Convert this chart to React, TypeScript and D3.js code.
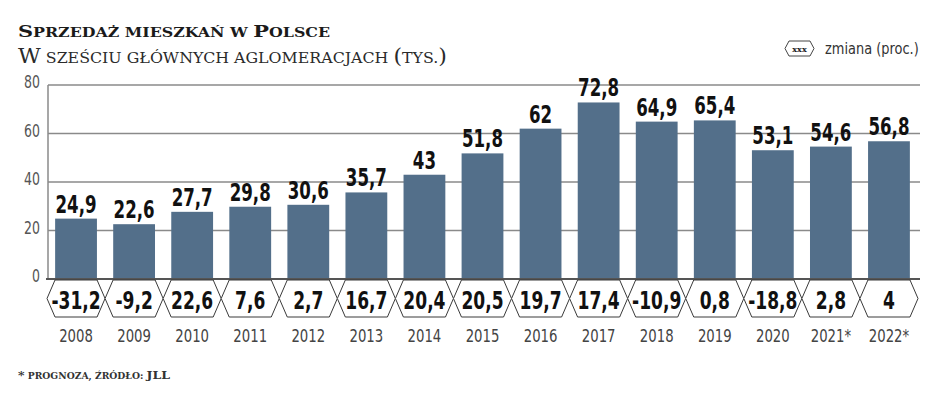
import { useEffect, useRef } from 'react';
import * as d3 from 'd3';

const years = ['2008', '2009', '2010', '2011', '2012', '2013', '2014', '2015', '2016', '2017', '2018', '2019', '2020', '2021*', '2022*'];
const sales = [24.9, 22.6, 27.7, 29.8, 30.6, 35.7, 43, 51.8, 62, 72.8, 64.9, 65.4, 53.1, 54.6, 56.8];
const changes = [-31.2, -9.2, 22.6, 7.6, 2.7, 16.7, 20.4, 20.5, 19.7, 17.4, -10.9, 0.8, -18.8, 2.8, 4];
const yTicks = [0, 20, 40, 60, 80];

const W = 948;
const H = 395;
const narrow = '"DejaVu Sans Condensed", "DejaVu Sans", sans-serif';
const serif = '"DejaVu Serif", Georgia, serif';

const fmt = (v: number) => String(v).replace('.', ',');

function hexPath(x0: number, x1: number, y0: number, y1: number, inset: number) {
  const ym = (y0 + y1) / 2;
  return `M${x0},${ym}L${x0 + inset},${y0}L${x1 - inset},${y0}L${x1},${ym}L${x1 - inset},${y1}L${x0 + inset},${y1}Z`;
}

// fake small caps: capitals at full size, the rest upper-cased and smaller
function smallCaps(
  sel: d3.Selection<SVGTextElement, unknown, null, undefined>,
  text: string,
  big: number,
  small: number,
) {
  const parts: { s: string; cap: boolean }[] = [];
  for (const ch of text) {
    const cap = ch !== ch.toLowerCase() || /[*()]/.test(ch);
    const last = parts[parts.length - 1];
    if (last && last.cap === cap) last.s += ch;
    else parts.push({ s: ch, cap });
  }
  parts.forEach(p => {
    sel.append('tspan')
      .style('font-size', `${p.cap ? big : small}px`)
      .text(p.s.toUpperCase());
  });
}

export default function App() {
  const svgRef = useRef<SVGSVGElement>(null);

  useEffect(() => {
    if (!svgRef.current) return;
    const svg = d3.select(svgRef.current);
    svg.selectAll('*').remove();

    const plot = { left: 48, right: 920, top: 85, bottom: 279 };

    const x = d3.scaleBand<string>()
      .domain(years)
      .range([47, 918])
      .paddingInner(0.28)
      .paddingOuter(0.14);

    const y = d3.scaleLinear().domain([0, 80]).range([plot.bottom, plot.top]);
    const cx = (i: number) => x(years[i])! + x.bandwidth() / 2;

    svg.append('rect').attr('width', W).attr('height', H).attr('fill', '#fff');

    // title
    const t1 = svg.append('text')
      .attr('x', 18).attr('y', 37)
      .attr('textLength', 312).attr('lengthAdjust', 'spacingAndGlyphs')
      .style('font-family', serif).style('font-weight', 'bold')
      .attr('fill', '#1a1a1a');
    smallCaps(t1, 'Sprzedaż mieszkań w Polsce', 16.5, 12.5);

    const t2 = svg.append('text')
      .attr('x', 18).attr('y', 63)
      .attr('textLength', 429).attr('lengthAdjust', 'spacingAndGlyphs')
      .style('font-family', serif)
      .attr('fill', '#2a2a2a');
    smallCaps(t2, 'W sześciu głównych aglomeracjach (tys.)', 21, 15);

    // legend
    const lg = svg.append('g');
    lg.append('path')
      .attr('d', hexPath(785, 814, 41, 56, 4))
      .attr('fill', '#fff').attr('stroke', '#444').attr('stroke-width', 1);
    lg.append('text')
      .attr('x', 799.5).attr('y', 51.5)
      .attr('text-anchor', 'middle')
      .style('font-family', serif).style('font-weight', 'bold').style('font-size', '8px')
      .attr('fill', '#222')
      .text('xxx');
    lg.append('text')
      .attr('transform', 'translate(825,54) scale(0.9,1)')
      .style('font-family', narrow).style('font-size', '16px')
      .attr('fill', '#333')
      .text('zmiana (proc.)');

    // grid
    svg.append('g')
      .selectAll('line')
      .data(yTicks.filter(d => d > 0))
      .join('line')
      .attr('x1', plot.left).attr('x2', plot.right)
      .attr('y1', d => y(d)).attr('y2', d => y(d))
      .attr('stroke', '#8a8a8a').attr('stroke-width', 1.5);

    svg.append('line')
      .attr('x1', plot.left).attr('x2', plot.left)
      .attr('y1', plot.top).attr('y2', plot.bottom)
      .attr('stroke', '#8a8a8a').attr('stroke-width', 1.5);

    svg.append('g')
      .selectAll('text')
      .data(yTicks)
      .join('text')
      .attr('transform', d => `translate(40,${y(d) - 2}) scale(0.82,1)`)
      .attr('text-anchor', 'end').attr('dominant-baseline', 'central')
      .style('font-family', narrow).style('font-size', '17px')
      .attr('fill', '#555')
      .text(d => d);

    // bars
    svg.append('g')
      .selectAll('rect')
      .data(sales)
      .join('rect')
      .attr('x', (_, i) => x(years[i])!)
      .attr('width', x.bandwidth())
      .attr('y', d => y(d))
      .attr('height', d => y(0) - y(d))
      .attr('fill', '#536f8a');

    svg.append('g')
      .selectAll('text')
      .data(sales)
      .join('text')
      .attr('transform', (d, i) => `translate(${cx(i)},${y(d) - 6}) scale(0.74,1)`)
      .attr('text-anchor', 'middle')
      .style('font-family', narrow).style('font-weight', 'bold').style('font-size', '25px')
      .attr('fill', '#111')
      .text(d => fmt(d));

    svg.append('line')
      .attr('x1', plot.left - 2).attr('x2', plot.right)
      .attr('y1', y(0)).attr('y2', y(0))
      .attr('stroke', '#555').attr('stroke-width', 2);

    // change hexagons
    const step = x.step();
    const hex = svg.append('g');
    hex.selectAll('path')
      .data(changes)
      .join('path')
      .attr('d', (_, i) => hexPath(cx(i) - step / 2, cx(i) + step / 2, 280, 317, 8))
      .attr('fill', '#fff').attr('stroke', '#3a3a3a').attr('stroke-width', 1);

    hex.selectAll('text')
      .data(changes)
      .join('text')
      .attr('transform', (_, i) => `translate(${cx(i)},309) scale(0.76,1)`)
      .attr('text-anchor', 'middle')
      .style('font-family', narrow).style('font-weight', 'bold').style('font-size', '25px')
      .attr('fill', '#111')
      .text(d => fmt(d));

    // years
    svg.append('g')
      .selectAll('text')
      .data(years)
      .join('text')
      .attr('transform', (_, i) => `translate(${cx(i)},342) scale(0.82,1)`)
      .attr('text-anchor', 'middle')
      .style('font-family', narrow).style('font-size', '18px')
      .attr('fill', '#444')
      .text(d => d);

    // footnote
    const fn = svg.append('text')
      .attr('x', 18).attr('y', 379)
      .attr('textLength', 152).attr('lengthAdjust', 'spacingAndGlyphs')
      .style('font-family', serif).style('font-weight', 'bold')
      .attr('fill', '#333');
    smallCaps(fn, '* prognoza, źródło: JLL', 11.5, 8.5);
  }, []);

  return (
    <svg
      ref={svgRef}
      width={W}
      height={H}
      style={{ position: 'absolute', left: 0, top: 0, display: 'block' }}
    />
  );
}
